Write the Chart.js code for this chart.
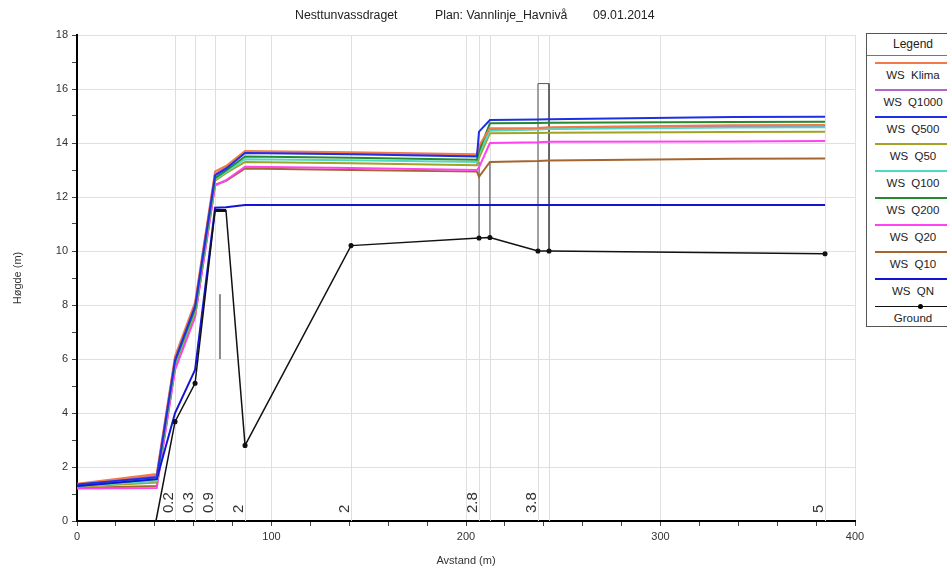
<!DOCTYPE html>
<html>
<head>
<meta charset="utf-8">
<script src="https://cdn.jsdelivr.net/npm/chart.js@4.4.1/dist/chart.umd.min.js"></script>
<style>
  body { margin: 0; background: #fff; overflow: hidden; }
  #wrap { position: relative; width: 947px; height: 568px; }
  #legend {
    position: absolute; left: 866px; top: 33px; width: 92px;
    border: 1px solid #555; background: #fff;
    font-family: Arial, "Liberation Sans", sans-serif; font-size: 11.5px; color: #222;
  }
  #legend .head { height: 21px; line-height: 21px; text-align: center; font-size: 12px; border-bottom: 1px solid #777; }
  #legend .item { height: 27px; position: relative; }
  #legend .swatch { position: absolute; left: 8px; right: 4px; top: 6px; height: 2px; }
  #legend .dot { position: absolute; left: 43px; top: -2px; width: 5px; height: 5px; border-radius: 50%; background: #000; }
  #legend .txt { position: absolute; left: 0; right: 0; top: 13px; text-align: center; word-spacing: 3px; }
</style>
</head>
<body>
<div id="wrap">
  <canvas id="profileChart" width="947" height="568"></canvas>
  <div id="legend"></div>
</div>
<script>
// Stations (m) where the water surface profiles are computed
const wsStations = [0, 41, 50.4, 60.7, 71, 76.6, 86.4, 140.9, 205.6, 206.7, 212.3, 237, 242.7, 337, 384.6];

// Water surface elevations (m) per profile
const wsKlima = [1.38, 1.74, 6.1, 8.1, 12.95, 13.15, 13.7, 13.66, 13.58, 13.9, 14.55, 14.56, 14.58, 14.66, 14.67];
const wsQ1000 = [1.36, 1.68, 6.0, 8.0, 12.85, 13.1, 13.66, 13.62, 13.54, 13.85, 14.5, 14.52, 14.54, 14.62, 14.63];
const wsQ500 = [1.35, 1.62, 5.95, 7.95, 12.8, 13.05, 13.63, 13.58, 13.5, 14.42, 14.85, 14.87, 14.88, 14.96, 14.97];
const wsQ50 = [1.27, 1.42, 5.8, 7.7, 12.6, 12.88, 13.3, 13.25, 13.18, 13.45, 14.36, 14.37, 14.38, 14.41, 14.42];
const wsQ100 = [1.3, 1.48, 5.85, 7.8, 12.65, 12.93, 13.4, 13.36, 13.3, 13.6, 14.45, 14.5, 14.52, 14.57, 14.58];
const wsQ200 = [1.3, 1.55, 5.9, 7.85, 12.7, 12.98, 13.5, 13.45, 13.38, 13.7, 14.73, 14.74, 14.75, 14.78, 14.79];
const wsQ20 = [1.2, 1.22, 5.6, 7.55, 12.42, 12.62, 13.12, 13.07, 13.0, 13.1, 14.0, 14.03, 14.05, 14.06, 14.07];
const wsQ10 = [1.22, 1.3, 5.65, 7.6, 12.45, 12.6, 13.06, 13.0, 12.94, 12.75, 13.3, 13.33, 13.35, 13.42, 13.43];
const wsQN = [1.3, 1.55, 4.0, 5.6, 11.6, 11.62, 11.7, 11.7, 11.7, 11.7, 11.7, 11.7, 11.7, 11.7, 11.7];

// Ground profile
const groundX = [40.6, 50.4, 60.7, 71, 76.6, 86.4, 140.9, 206.7, 212.3, 237, 242.7, 384.6];
const groundY = [0, 3.68, 5.1, 11.5, 11.5, 2.8, 10.2, 10.48, 10.5, 10.0, 10.0, 9.9];

// Structures (bridge openings, culvert)
const bridgeX = [206.7, 206.7, null, 212.3, 212.3];
const bridgeY = [10.48, 13.3, null, 10.5, 13.3];
const culvertX = [237, 237, 242.7, 242.7];
const culvertY = [10.0, 16.2, 16.2, 10.0];
const weirX = [73.5, 73.5];
const weirY = [6.0, 8.4];

// Cross-section stations with labels
const sectionStations = [50.4, 60.7, 71, 86.4, 140.9, 206.7, 212.3, 237, 242.7, 384.6];
const labelStations = [50.4, 60.7, 71, 86.4, 140.9, 206.7, 237, 384.6];
const labelTexts = ['0.2', '0.3', '0.9', '2', '2', '2.8', '3.8', '5'];

const seriesNames = ['WS Klima', 'WS Q1000', 'WS Q500', 'WS Q50', 'WS Q100', 'WS Q200', 'WS Q20', 'WS Q10', 'WS QN'];
const seriesValues = [wsKlima, wsQ1000, wsQ500, wsQ50, wsQ100, wsQ200, wsQ20, wsQ10, wsQN];
const seriesColors = ['#f27a4a', '#b465c8', '#1f2fe6', '#a2a223', '#4fd8c6', '#238a2e', '#ff42f2', '#a5652f', '#1414d4'];
const drawOrder = [3, 6, 1, 7, 5, 4, 8, 9, 2];

// title pieces and their left edges (px)
const titleParts = ['Nesttunvassdraget', 'Plan: Vannlinje_Havnivå', '09.01.2014'];
const titleLefts = [295, 435, 593];

const FONT = 'Arial, "Liberation Sans", sans-serif';

function toPoints(xs, ys) {
    return xs.map((x, i) => ({ x: x, y: ys[i] }));
}

const datasets = seriesValues.map((vals, i) => ({
    label: seriesNames[i],
    data: toPoints(wsStations, vals),
    borderColor: seriesColors[i],
    borderWidth: 2,
    pointRadius: 0,
    showLine: true,
    order: drawOrder[i]
}));

datasets.push({
    label: 'Ground',
    data: toPoints(groundX, groundY),
    borderColor: '#111',
    backgroundColor: '#111',
    borderWidth: 1.5,
    pointRadius: groundX.map(x => (x === 40.6 || x === 71 || x === 76.6) ? 0 : 1.8),
    showLine: true,
    order: 0
});
datasets.push({ label: 'bridge', data: toPoints(bridgeX, bridgeY), borderColor: '#444', borderWidth: 1, pointRadius: 0, showLine: true, spanGaps: false, order: 10 });
datasets.push({ label: 'culvert', data: toPoints(culvertX, culvertY), borderColor: '#555', borderWidth: 1, pointRadius: 0, showLine: true, order: 10 });
datasets.push({ label: 'weir', data: toPoints(weirX, weirY), borderColor: '#888', borderWidth: 2, pointRadius: 0, showLine: true, order: 10 });
datasets.push({ label: 'deck', data: toPoints([71, 76.6], [11.5, 11.5]), borderColor: '#111', borderWidth: 3, pointRadius: 0, showLine: true, order: 0 });

// station lines under the data, section labels on top, title
const sectionPlugin = {
    id: 'sections',
    beforeDatasetsDraw(chart) {
        const { ctx, chartArea, scales } = chart;
        ctx.save();
        ctx.strokeStyle = '#dedede';
        ctx.lineWidth = 1;
        sectionStations.forEach(s => {
            const px = Math.round(scales.x.getPixelForValue(s)) + 0.5;
            ctx.beginPath();
            ctx.moveTo(px, chartArea.top);
            ctx.lineTo(px, chartArea.bottom);
            ctx.stroke();
        });
        ctx.restore();
    },
    afterDatasetsDraw(chart) {
        const { ctx, chartArea, scales } = chart;
        ctx.save();
        ctx.fillStyle = '#333';
        ctx.font = '15px ' + FONT;
        ctx.textAlign = 'left';
        ctx.textBaseline = 'alphabetic';
        labelStations.forEach((s, i) => {
            const px = scales.x.getPixelForValue(s);
            ctx.save();
            ctx.translate(px - 2, chartArea.bottom - 8);
            ctx.rotate(-Math.PI / 2);
            ctx.fillText(labelTexts[i], 0, 0);
            ctx.restore();
        });
        ctx.restore();
    },
    afterDraw(chart) {
        const ctx = chart.ctx;
        ctx.save();
        ctx.fillStyle = '#222';
        ctx.font = '12.3px ' + FONT;
        ctx.textAlign = 'left';
        ctx.textBaseline = 'middle';
        titleParts.forEach((t, i) => ctx.fillText(t, titleLefts[i], 16));
        ctx.restore();
    }
};

new Chart(document.getElementById('profileChart'), {
    type: 'scatter',
    data: { datasets: datasets },
    options: {
        responsive: false,
        animation: false,
        devicePixelRatio: 1,
        layout: { padding: { right: 92, top: 35 } },
        plugins: {
            legend: { display: false },
            tooltip: { enabled: false },
            title: { display: false }
        },
        scales: {
            x: {
                type: 'linear',
                min: 0,
                max: 400,
                afterFit: s => { s.height = 47; },
                border: { color: '#000', width: 2 },
                grid: {
                    color: c => (c.tick && c.tick.value % 100 === 0) ? '#e0e0e0' : 'rgba(0,0,0,0)',
                    tickColor: '#444',
                    tickLength: 5
                },
                ticks: {
                    stepSize: 20,
                    autoSkip: false,
                    maxRotation: 0,
                    padding: 4,
                    color: '#333',
                    font: { family: FONT, size: 11 },
                    callback: v => v % 100 === 0 ? v : ''
                },
                title: { display: true, text: 'Avstand (m)', color: '#333', font: { family: FONT, size: 11 }, padding: { top: 0, bottom: 0 } }
            },
            y: {
                min: 0,
                max: 18,
                afterFit: s => { s.width = 77; },
                border: { color: '#000', width: 2 },
                grid: {
                    color: c => (c.tick && c.tick.value % 2 === 0) ? '#e0e0e0' : 'rgba(0,0,0,0)',
                    tickColor: '#444',
                    tickLength: 5
                },
                ticks: {
                    stepSize: 1,
                    autoSkip: false,
                    padding: 4,
                    color: '#333',
                    font: { family: FONT, size: 11 },
                    callback: v => v % 2 === 0 ? v : ''
                },
                title: { display: true, text: 'Høgde (m)', color: '#333', font: { family: FONT, size: 11 }, padding: { top: 11, bottom: 0 } }
            }
        }
    },
    plugins: [sectionPlugin]
});

// HTML legend in the style of the original
const legendEl = document.getElementById('legend');
let html = '<div class="head">Legend</div>';
seriesNames.forEach((name, i) => {
    html += '<div class="item"><div class="swatch" style="background:' + seriesColors[i] + '"></div><div class="txt">' + name + '</div></div>';
});
html += '<div class="item"><div class="swatch" style="background:#111;height:1px;top:7px"><div class="dot"></div></div><div class="txt">Ground</div></div>';
legendEl.innerHTML = html;
</script>
</body>
</html>
